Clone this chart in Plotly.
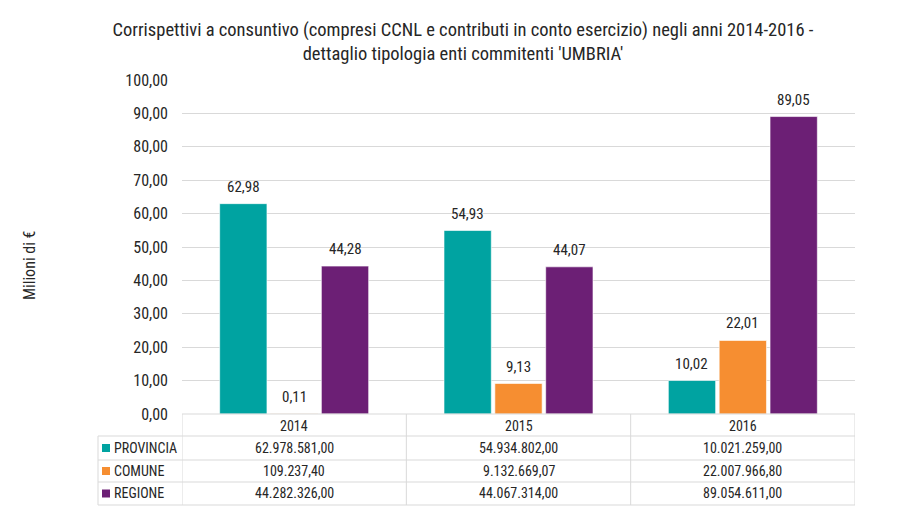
import plotly.graph_objects as go

years = ["2014", "2015", "2016"]
series_names = ["PROVINCIA", "COMUNE", "REGIONE"]
provincia_eur = [62978581.00, 54934802.00, 10021259.00]
comune_eur = [109237.40, 9132669.07, 22007966.80]
regione_eur = [44282326.00, 44067314.00, 89054611.00]
colors = ["#00A3A1", "#F68E31", "#6C1F75"]

title_text = ("Corrispettivi a consuntivo (compresi CCNL e contributi in conto esercizio) negli anni 2014-2016 -"
              "<br>dettaglio tipologia enti commitenti 'UMBRIA'")
y_title = "Milioni di €"

FONT = "Roboto Condensed, Liberation Sans Narrow, Roboto, sans-serif"
TXT = "#262626"
GRID = "#d9d9d9"

# page offset (body margin) and page-pixel geometry
OFF = 8
W, H = 904 - OFF, 521 - OFF
L, R, T, B = 182, 855, 80, 414  # plot area in page pixels
BARGAP, GROUPGAP = 0.32, 0.07


def px(x):
    return (x - L) / (R - L)


def py(y):
    return (B - y) / (B - T)


def it_fmt(v):
    s = f"{v:,.2f}"
    return s.replace(",", "X").replace(".", ",").replace("X", ".")


all_series = [provincia_eur, comune_eur, regione_eur]
n = len(series_names)
cat_w = (R - L) / len(years)
slot_w = cat_w * (1 - BARGAP) / n

fig = go.Figure()
annotations = []
for k, (name, vals, col) in enumerate(zip(series_names, all_series, colors)):
    mil = [v / 1e6 for v in vals]
    fig.add_trace(go.Bar(
        x=years, y=mil, name=name,
        marker=dict(color=col, line=dict(color="rgba(255,255,255,0.6)", width=1)),
        hoverinfo="x+y+name",
    ))
    for i, m in enumerate(mil):
        annotations.append(dict(x=i, y=m, xref="x", yref="y", text=it_fmt(m), showarrow=False,
                                xshift=(k - (n - 1) / 2) * slot_w, yshift=6,
                                xanchor="center", yanchor="bottom",
                                font=dict(size=15, color=TXT, family=FONT)))

shapes = []

# table geometry (page pixel rows)
row_edges = [414, 436, 460, 482, 505]
left_x = 98
TF = 14
shapes.append(dict(type="line", xref="paper", yref="paper", x0=0, x1=1, y0=py(row_edges[0]), y1=py(row_edges[0]),
                   line=dict(color=GRID, width=1)))
for ye in row_edges[1:]:
    shapes.append(dict(type="line", xref="paper", yref="paper", x0=px(left_x), x1=1, y0=py(ye), y1=py(ye),
                       line=dict(color=GRID, width=1)))
shapes.append(dict(type="line", xref="paper", yref="paper", x0=px(left_x), x1=px(left_x), y0=py(436), y1=py(505),
                   line=dict(color=GRID, width=1)))
for i in range(len(years) + 1):
    xb = i - 0.5
    shapes.append(dict(type="line", xref="x", yref="paper", x0=xb, x1=xb, y0=py(414), y1=py(505),
                       line=dict(color=GRID, width=1)))

for i, yr in enumerate(years):
    annotations.append(dict(x=i, y=py(425.5), xref="x", yref="paper", text=yr, showarrow=False,
                            font=dict(size=TF, color=TXT, family=FONT), xanchor="center", yanchor="middle"))

for r, (name, vals, col) in enumerate(zip(series_names, all_series, colors)):
    y0, y1 = row_edges[r + 1], row_edges[r + 2]
    yc = (y0 + y1) / 2
    shapes.append(dict(type="rect", xref="paper", yref="paper", x0=px(102), x1=px(110),
                       y0=py(yc - 4), y1=py(yc + 4), fillcolor=col, line=dict(width=0)))
    annotations.append(dict(x=px(112), y=py(yc), xref="paper", yref="paper", text=name, showarrow=False,
                            font=dict(size=TF, color=TXT, family=FONT), xanchor="left", yanchor="middle"))
    for i, v in enumerate(vals):
        annotations.append(dict(x=i, y=py(yc), xref="x", yref="paper", text=it_fmt(v), showarrow=False,
                                font=dict(size=TF, color=TXT, family=FONT), xanchor="center", yanchor="middle"))

annotations.append(dict(x=px(29), y=py(265), xref="paper", yref="paper", text=y_title, showarrow=False,
                        textangle=-90, font=dict(size=16, color=TXT, family=FONT),
                        xanchor="center", yanchor="middle"))

fig.update_layout(
    width=W, height=H,
    margin=dict(l=L - OFF, r=W - (R - OFF), t=T - OFF, b=H - (B - OFF), pad=0),
    paper_bgcolor="white", plot_bgcolor="white",
    separators=",.",
    showlegend=False,
    barmode="group", bargap=BARGAP, bargroupgap=GROUPGAP,
    font=dict(family=FONT, color=TXT, size=14),
    title=dict(text=title_text, x=(463 - OFF) / W, xanchor="center", y=1 - (36 - OFF) / H, yanchor="middle",
               font=dict(size=18.5, color=TXT, family=FONT)),
    xaxis=dict(type="category", showticklabels=False, showgrid=False, zeroline=False, showline=False, ticks="",
               range=[-0.5, len(years) - 0.5]),
    yaxis=dict(range=[0, 100], dtick=10, tickformat=".2f", showgrid=True, gridcolor=GRID, gridwidth=1,
               zeroline=False, showline=False, ticks="", ticklabelstandoff=13,
               tickfont=dict(size=16, color=TXT, family=FONT)),
    shapes=shapes, annotations=annotations,
)

fig.write_html("out.html")
